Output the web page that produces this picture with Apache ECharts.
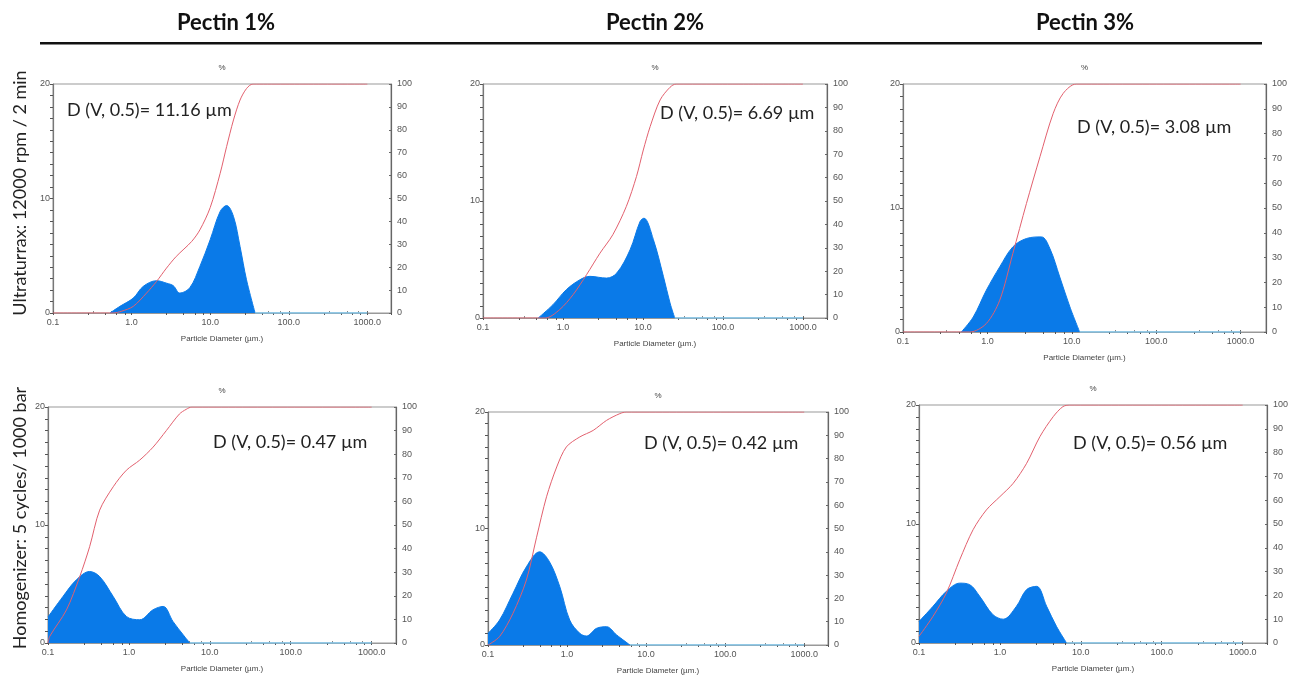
<!DOCTYPE html>
<html><head><meta charset="utf-8">
<script src="https://cdn.jsdelivr.net/npm/echarts@6/dist/echarts.min.js"></script>
<style>html,body{margin:0;padding:0;background:#fff}#c{width:1293px;height:682px}</style>
</head><body><div id="c"></div>
<script>
// ---- Data ----
const columnTitles = ['Pectin 1%', 'Pectin 2%', 'Pectin 3%'];
const rowTitles = ['Ultraturrax: 12000 rpm / 2 min', 'Homogenizer: 5 cycles/ 1000 bar'];
const d50Labels = ['D (V, 0.5)= 11.16 µm', 'D (V, 0.5)= 6.69 µm', 'D (V, 0.5)= 3.08 µm',
                   'D (V, 0.5)= 0.47 µm', 'D (V, 0.5)= 0.42 µm', 'D (V, 0.5)= 0.56 µm'];
const xTickLabels = ['0.1', '1.0', '10.0', '100.0', '1000.0'];

// Panel 1: Pectin 1% / Ultraturrax
const p1DistX = [0.53, 0.71, 1.05, 1.41, 2.08, 2.8, 3.4, 4.1, 5.5, 7.4, 10, 13.4, 16.2, 19.8, 24, 29, 37.3];
const p1DistY = [0, 0.58, 1.3, 2.33, 2.82, 2.6, 2.38, 1.74, 2.2, 4.07, 6.4, 8.87, 9.39, 8.43, 5.8, 2.9, 0];
const p1CumX = [0.1, 0.58, 0.75, 1.05, 1.55, 2.08, 2.78, 3.7, 5.8, 7.4, 10, 13.4, 16.2, 19.8, 24, 29, 35, 1000];
const p1CumY = [0, 0, 0.8, 2.9, 8.7, 13.8, 19.6, 24.7, 31.2, 36.3, 46, 61, 72.7, 84.3, 93, 98, 100, 100];
// Panel 2: Pectin 2% / Ultraturrax
const p2DistX = [0.49, 0.75, 1.1, 1.63, 2.17, 3.5, 4.7, 6.9, 9.2, 10.3, 13.5, 18, 21.8, 25];
const p2DistY = [0, 1.14, 2.42, 3.27, 3.56, 3.41, 3.84, 5.83, 8.25, 8.53, 6.7, 3.56, 1.28, 0];
const p2CumX = [0.1, 0.6, 0.91, 1.34, 1.97, 2.9, 4.2, 6.2, 8.3, 10.1, 12.3, 16.4, 21.8, 26, 1000];
const p2CumY = [0, 0, 3.6, 10, 18.5, 27.7, 35.6, 47.7, 60.5, 71.8, 81.8, 93.2, 98.6, 100, 100];
// Panel 3: Pectin 3% / Ultraturrax
const p3DistX = [0.49, 0.68, 0.97, 1.4, 2.0, 2.9, 4.36, 5.5, 7.2, 9.5, 12.4];
const p3DistY = [0, 1.21, 3.36, 5.25, 6.86, 7.54, 7.67, 6.73, 4.44, 2.02, 0];
const p3CumX = [0.1, 0.62, 0.97, 1.4, 2.0, 2.9, 4.2, 6.0, 7.9, 11.3, 1000];
const p3CumY = [0, 0, 3.4, 12.8, 31.6, 51.8, 70.7, 88, 96.2, 100, 100];
// Panel 4: Pectin 1% / Homogenizer
const p4DistX = [0.1, 0.153, 0.224, 0.327, 0.435, 0.64, 0.93, 1.36, 1.99, 2.65, 3.5, 4.68, 5.66];
const p4DistY = [2.2, 3.94, 5.35, 6.06, 5.63, 3.94, 2.25, 1.97, 2.82, 3.1, 1.83, 0.7, 0];
const p4CumX = [0.1, 0.105, 0.169, 0.246, 0.327, 0.435, 0.64, 0.93, 1.36, 1.99, 2.9, 4.2, 5.1, 6.0, 1000];
const p4CumY = [0, 2.8, 14, 28, 40.8, 56.3, 66.2, 73.2, 77.5, 83, 90, 97, 99, 100, 100];
// Panel 5: Pectin 2% / Homogenizer
const p5DistX = [0.1, 0.14, 0.207, 0.306, 0.45, 0.6, 0.81, 1.08, 1.45, 1.76, 2.36, 3.16, 4.24, 6.25];
const p5DistY = [1.0, 2.14, 4.43, 6.71, 8.0, 7.14, 5.0, 2.14, 1.0, 0.77, 1.43, 1.57, 0.86, 0];
const p5CumX = [0.1, 0.14, 0.207, 0.306, 0.41, 0.55, 0.74, 0.98, 1.45, 2.14, 3.16, 4.65, 5.6, 1000];
const p5CumY = [0, 3.6, 13.6, 27.9, 46, 63.6, 76.4, 85, 89.3, 92.1, 96.4, 99.3, 100, 100];
// Panel 6: Pectin 3% / Homogenizer
const p6DistX = [0.1, 0.149, 0.218, 0.319, 0.424, 0.563, 0.82, 1.1, 1.6, 2.13, 2.84, 3.78, 5.0, 6.67];
const p6DistY = [1.8, 3.08, 4.34, 5.03, 4.9, 3.92, 2.38, 2.0, 3.08, 4.48, 4.76, 3.08, 1.4, 0];
const p6CumX = [0.1, 0.149, 0.218, 0.319, 0.466, 0.68, 1.0, 1.46, 2.14, 3.12, 4.56, 6.0, 7.3, 1000];
const p6CumY = [2.8, 11.2, 21, 35, 47.6, 55.9, 61.5, 67.1, 75.5, 86.7, 95.1, 99.3, 100, 100];

const xMin = 0.1, xMax = 2000, dataEnd = 1000;

// ---- Layout ----
const panels = [
  {grid: {left: 53, top: 84, width: 338, height: 229}, dx: p1DistX, dy: p1DistY, cx: p1CumX, cy: p1CumY, ann: [67, 110]},
  {grid: {left: 483, top: 84, width: 344, height: 234}, dx: p2DistX, dy: p2DistY, cx: p2CumX, cy: p2CumY, ann: [660, 113]},
  {grid: {left: 903, top: 84, width: 363, height: 248}, dx: p3DistX, dy: p3DistY, cx: p3CumX, cy: p3CumY, ann: [1077, 127]},
  {grid: {left: 48, top: 407, width: 348, height: 236}, dx: p4DistX, dy: p4DistY, cx: p4CumX, cy: p4CumY, ann: [213, 442]},
  {grid: {left: 488, top: 412, width: 340, height: 233}, dx: p5DistX, dy: p5DistY, cx: p5CumX, cy: p5CumY, ann: [644, 443]},
  {grid: {left: 919, top: 405, width: 348, height: 238}, dx: p6DistX, dy: p6DistY, cx: p6CumX, cy: p6CumY, ann: [1073, 443]}
];

const zip = (a, b) => a.map((v, i) => [v, b[i]]);
const labelStyle = {color: '#555', fontSize: 9, fontFamily: 'Liberation Sans'};
const fmtX = v => {
  const s = (+v).toFixed(1);
  return xTickLabels.indexOf(s) >= 0 ? s : '';
};

const grids = [], xAxes = [], yAxes = [], series = [], graphics = [];
panels.forEach((p, i) => {
  grids.push(Object.assign({show: true, borderColor: '#999', borderWidth: 1, backgroundColor: '#fff'}, p.grid));
  xAxes.push({
    type: 'log', logBase: 10, min: xMin, max: xMax, gridIndex: i, position: 'bottom',
    name: 'Particle Diameter (µm.)', nameLocation: 'middle', nameGap: 22,
    nameTextStyle: {color: '#444', fontSize: 8, fontFamily: 'Liberation Sans'},
    axisLine: {lineStyle: {color: '#666', width: 1.2}},
    axisTick: {show: true, inside: true, length: 2, lineStyle: {color: '#666'}},
    minorTick: {show: true, splitNumber: 4, length: 2, lineStyle: {color: '#888'}},
    axisLabel: {formatter: fmtX, margin: 5, ...labelStyle},
    splitLine: {show: false}
  });
  xAxes.push({
    type: 'log', logBase: 10, min: xMin, max: xMax, gridIndex: i, position: 'top',
    name: '%', nameLocation: 'middle', nameGap: 12,
    nameTextStyle: {color: '#444', fontSize: 8, fontFamily: 'Liberation Sans'},
    axisLine: {lineStyle: {color: '#999'}},
    axisTick: {show: true, inside: true, length: 2, lineStyle: {color: '#555'}},
    minorTick: {show: true, splitNumber: 5, length: 2, lineStyle: {color: '#555'}},
    axisLabel: {show: false}, splitLine: {show: false}
  });
  yAxes.push({
    type: 'value', min: 0, max: 20, interval: 10, gridIndex: i, position: 'left',
    axisLine: {show: true, lineStyle: {color: '#777', width: 1.2}},
    axisTick: {show: true, length: 3, lineStyle: {color: '#555'}},
    minorTick: {show: true, splitNumber: 10, length: 3, lineStyle: {color: '#555'}},
    axisLabel: {margin: 3, ...labelStyle}, splitLine: {show: false}
  });
  yAxes.push({
    type: 'value', min: 0, max: 100, interval: 10, gridIndex: i, position: 'right',
    axisLine: {show: true, lineStyle: {color: '#666', width: 1.2}},
    axisTick: {show: true, inside: true, length: 2, lineStyle: {color: '#666'}},
    axisLabel: {margin: 6, ...labelStyle}, splitLine: {show: false}
  });
  const xb = 2 * i, yl = 2 * i, yr = 2 * i + 1;
  const lastX = p.dx[p.dx.length - 1];
  series.push({
    type: 'line', name: 'Volume', xAxisIndex: xb, yAxisIndex: yl, data: zip(p.dx, p.dy),
    smooth: 0.35, showSymbol: false, silent: true,
    lineStyle: {color: '#0a7ae8', width: 1}, areaStyle: {color: '#0a7ae8', opacity: 1}, z: 2
  });
  series.push({
    type: 'line', name: 'Baseline', xAxisIndex: xb, yAxisIndex: yl, data: [[lastX, 0], [dataEnd, 0]],
    showSymbol: false, silent: true, lineStyle: {color: '#7fc8ef', width: 1.5}, z: 3
  });
  series.push({
    type: 'line', name: 'Cumulative', xAxisIndex: xb, yAxisIndex: yr, data: zip(p.cx, p.cy),
    smooth: 0.3, showSymbol: false, silent: true,
    lineStyle: {color: '#e2606e', width: 1}, z: 4
  });
  graphics.push({
    type: 'text', x: p.ann[0], y: p.ann[1], z: 10,
    style: {text: d50Labels[i], fill: '#222', fontSize: 18, fontFamily: 'Lato', textAlign: 'left', textVerticalAlign: 'middle'}
  });
});

const colCenters = [226, 655, 1085];
columnTitles.forEach((t, i) => graphics.push({
  type: 'text', x: colCenters[i], y: 23,
  style: {text: t, fill: '#111', fontSize: 22, fontWeight: 'bold', fontFamily: 'Lato', textAlign: 'center', textVerticalAlign: 'middle'}
}));
graphics.push({type: 'rect', shape: {x: 40, y: 42, width: 1222, height: 2.5}, style: {fill: '#111'}});
const rowCenters = [193, 518];
rowTitles.forEach((t, i) => graphics.push({
  type: 'text', x: 20, y: rowCenters[i], rotation: Math.PI / 2,
  style: {text: t, fill: '#222', fontSize: 18, fontFamily: 'Lato', textAlign: 'center', textVerticalAlign: 'middle'}
}));

const chart = echarts.init(document.getElementById('c'), null, {renderer: 'canvas'});
chart.setOption({
  animation: false,
  backgroundColor: '#fff',
  grid: grids, xAxis: xAxes, yAxis: yAxes, series: series, graphic: graphics
});
</script></body></html>
